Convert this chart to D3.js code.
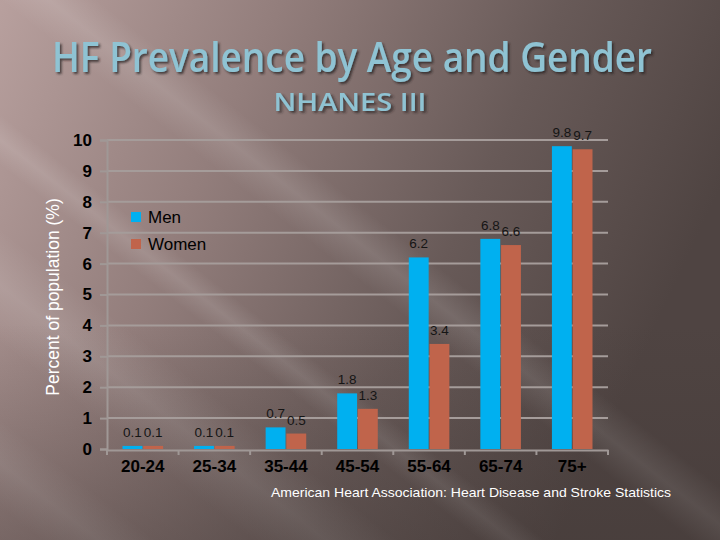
<!DOCTYPE html>
<html>
<head>
<meta charset="utf-8">
<script src="https://cdn.jsdelivr.net/npm/d3@7"></script>
<style>
  html, body { margin: 0; padding: 0; background: #6e5e5c; }
  svg { display: block; }
</style>
</head>
<body>
<svg id="chart" width="720" height="540"></svg>
<script>
const ageGroups = ['20-24', '25-34', '35-44', '45-54', '55-64', '65-74', '75+'];
const men = [0.1, 0.1, 0.7, 1.8, 6.2, 6.8, 9.8];
const women = [0.1, 0.1, 0.5, 1.3, 3.4, 6.6, 9.7];
const seriesNames = ['Men', 'Women'];
const yTicks = [0, 1, 2, 3, 4, 5, 6, 7, 8, 9, 10];

const width = 720;
const height = 540;
const plotLeft = 107, plotRight = 608, plotTop = 140, plotBottom = 449;
const colors = { Men: '#00b0f0', Women: '#c0644b' };
const font = 'Liberation Sans, Arial, sans-serif';

const svg = d3.select('#chart');
const defs = svg.append('defs');

// background
const bg = defs.append('linearGradient').attr('id', 'bg')
  .attr('x1', '0').attr('y1', '0').attr('x2', '1').attr('y2', '0.35');
bg.append('stop').attr('offset', '0').attr('stop-color', '#b8a09e');
bg.append('stop').attr('offset', '0.35').attr('stop-color', '#937e7c');
bg.append('stop').attr('offset', '0.7').attr('stop-color', '#685a58');
bg.append('stop').attr('offset', '1').attr('stop-color', '#4f4442');
svg.append('rect').attr('width', width).attr('height', height).attr('fill', 'url(#bg)');

const streak = defs.append('linearGradient').attr('id', 'streak')
  .attr('x1', '0').attr('y1', '0').attr('x2', '0').attr('y2', '1');
streak.append('stop').attr('offset', '0').attr('stop-color', '#fff').attr('stop-opacity', 0);
streak.append('stop').attr('offset', '0.5').attr('stop-color', '#fff').attr('stop-opacity', 0.12);
streak.append('stop').attr('offset', '1').attr('stop-color', '#fff').attr('stop-opacity', 0);

const streaks = [[-60, 60], [90, 40], [180, 90], [330, 70]];
svg.append('g').selectAll('rect').data(streaks).join('rect')
  .attr('x', -400).attr('width', 1600)
  .attr('y', d => d[0]).attr('height', d => d[1])
  .attr('fill', 'url(#streak)')
  .attr('transform', 'rotate(38 0 0)');

// dark fade at bottom
const fade = defs.append('linearGradient').attr('id', 'fade')
  .attr('x1', '0').attr('y1', '0').attr('x2', '0').attr('y2', '1');
fade.append('stop').attr('offset', '0.6').attr('stop-color', '#3e3533').attr('stop-opacity', 0);
fade.append('stop').attr('offset', '1').attr('stop-color', '#3e3533').attr('stop-opacity', 0.35);
svg.append('rect').attr('width', width).attr('height', height).attr('fill', 'url(#fade)');

// titles (scaled horizontally to fit the reference width)
const shadow = defs.append('filter').attr('id', 'shadow')
  .attr('x', '-5%').attr('y', '-20%').attr('width', '110%').attr('height', '150%');
shadow.append('feDropShadow').attr('dx', 2).attr('dy', 2).attr('stdDeviation', 1.2)
  .attr('flood-color', '#2a2220').attr('flood-opacity', 0.75);

function fitTitle(str, cx, baseline, size, targetWidth) {
  const g = svg.append('g');
  const t = g.append('text').attr('text-anchor', 'middle')
    .attr('font-family', 'Open Sans, sans-serif').attr('font-size', size).attr('font-weight', 600)
    .attr('fill', '#8fc3d3').attr('filter', 'url(#shadow)')
    .text(str);
  const sx = targetWidth / t.node().getComputedTextLength();
  g.attr('transform', `translate(${cx},${baseline}) scale(${sx},1)`);
}

fitTitle('HF Prevalence by Age and Gender', 352, 72, 41, 600);
fitTitle('NHANES III', 350, 111, 25, 153);

// scales
const x = d3.scaleBand().domain(ageGroups).range([plotLeft, plotRight]);
const inner = d3.scaleBand().domain(seriesNames).range([15.5, x.bandwidth() - 15.5]).paddingInner(0.04);
const y = d3.scaleLinear().domain([0, 10]).range([plotBottom, plotTop]);

// gridlines
svg.append('g').selectAll('line').data(yTicks.slice(1)).join('line')
  .attr('x1', plotLeft).attr('x2', plotRight)
  .attr('y1', d => y(d)).attr('y2', d => y(d))
  .attr('stroke', '#a59c9a').attr('stroke-width', 2);

// y axis
const yAxis = svg.append('g')
  .attr('transform', `translate(${plotLeft},0)`)
  .call(d3.axisLeft(y).tickValues(yTicks).tickSize(7).tickPadding(8).tickFormat(d3.format('d')));
yAxis.select('.domain').attr('stroke', '#a09896').attr('stroke-width', 2);
yAxis.selectAll('.tick line').attr('stroke', '#a09896').attr('stroke-width', 2);
yAxis.selectAll('.tick text')
  .attr('font-family', font).attr('font-size', 17)
  .attr('font-weight', 'bold').attr('fill', '#000');

svg.append('text')
  .attr('transform', `translate(59,297) rotate(-90)`)
  .attr('text-anchor', 'middle')
  .attr('font-family', font).attr('font-size', 17.5)
  .attr('fill', '#fff')
  .text('Percent of population (%)');

// bars
const rows = ageGroups.map((g, i) => ({ group: g, values: [
  { key: 'Men', value: men[i] }, { key: 'Women', value: women[i] }] }));

const groups = svg.append('g').selectAll('g').data(rows).join('g')
  .attr('transform', d => `translate(${x(d.group)},0)`);

groups.selectAll('rect').data(d => d.values).join('rect')
  .attr('x', d => inner(d.key))
  .attr('width', inner.bandwidth())
  .attr('y', d => y(d.value))
  .attr('height', d => y(0) - y(d.value))
  .attr('fill', d => colors[d.key]);

groups.selectAll('text').data(d => d.values).join('text')
  .attr('x', d => inner(d.key) + inner.bandwidth() / 2)
  .attr('y', d => y(d.value) - 9)
  .attr('text-anchor', 'middle')
  .attr('font-family', font).attr('font-size', 13.5)
  .attr('fill', '#151515')
  .text(d => d.value);

// x axis
const xAxis = svg.append('g')
  .attr('transform', `translate(0,${plotBottom + 1})`)
  .call(d3.axisBottom(x).tickSize(0).tickPadding(10).tickSizeOuter(0));
xAxis.select('.domain').attr('stroke', '#a09896').attr('stroke-width', 2);
xAxis.selectAll('.tick text')
  .attr('font-family', font).attr('font-size', 17)
  .attr('font-weight', 'bold').attr('fill', '#000');

svg.append('g').selectAll('line').data(d3.range(ageGroups.length + 1)).join('line')
  .attr('x1', i => plotLeft + i * x.step()).attr('x2', i => plotLeft + i * x.step())
  .attr('y1', plotBottom + 1).attr('y2', plotBottom + 6)
  .attr('stroke', '#a09896').attr('stroke-width', 2);

// legend
const legend = svg.append('g').selectAll('g').data(seriesNames).join('g')
  .attr('transform', (d, i) => `translate(131,${217 + i * 27})`);
legend.append('rect').attr('x', 0).attr('y', -5).attr('width', 10).attr('height', 10)
  .attr('fill', d => colors[d]);
legend.append('text').attr('x', 17).attr('y', 6)
  .attr('font-family', font).attr('font-size', 17)
  .attr('fill', '#000')
  .text(d => d);

// source
svg.append('text').attr('x', 271).attr('y', 497)
  .attr('font-family', font).attr('font-size', 13.5)
  .attr('textLength', 400).attr('lengthAdjust', 'spacingAndGlyphs')
  .attr('fill', '#fff')
  .text('American Heart Association: Heart Disease and Stroke Statistics');
</script>
</body>
</html>
